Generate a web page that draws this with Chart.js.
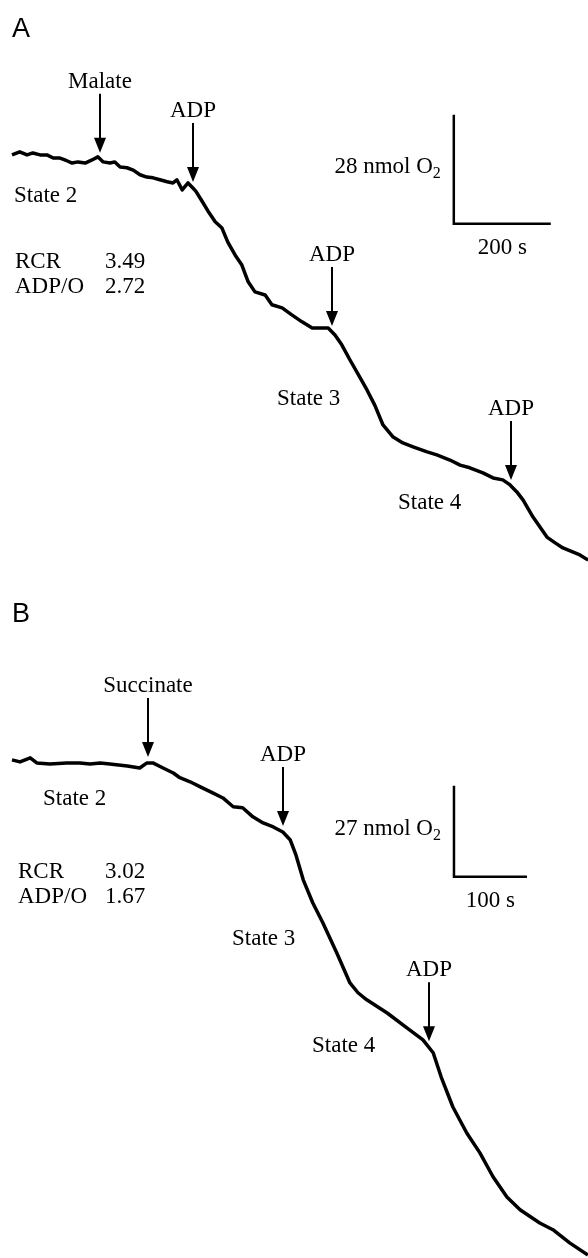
<!DOCTYPE html>
<html>
<head>
<meta charset="utf-8">
<script src="https://cdn.jsdelivr.net/npm/chart.js@4.4.1/dist/chart.umd.min.js"></script>
<style>
  html, body { margin: 0; padding: 0; background: #fff; }
  .panel { position: absolute; left: 0; width: 588px; }
  #panelA { top: 0; height: 590px; }
  #panelB { top: 590px; height: 668px; }
</style>
</head>
<body>
<div class="panel" id="panelA"><canvas id="chartA"></canvas></div>
<div class="panel" id="panelB"><canvas id="chartB"></canvas></div>
<script>
// Panel A - malate: time (s) and O2 left in the chamber (nmol)
const timeA = [0, 16, 31, 43, 58, 72, 85, 99, 113, 124, 136, 151, 165, 177, 188, 202, 212, 223, 237, 250,
  264, 278, 291, 305, 320, 332, 340, 351, 363, 373, 379, 392, 404, 419, 433, 445, 460, 474, 487, 501,
  522, 536, 557, 577, 598, 619, 639, 652, 666, 680, 697, 718, 732, 748, 765, 786, 806, 827, 856, 876,
  903, 924, 944, 971, 992, 1012, 1027, 1041, 1054, 1074, 1103, 1120, 1136, 1171, 1188]
const oxygenA = [230.0, 230.8, 230.0, 230.5, 230.0, 230.0, 229.2, 229.2, 228.5, 227.9, 228.2, 227.9, 228.7, 229.5, 228.2, 227.9, 228.2, 226.9, 226.7, 226.1,
  224.9, 224.3, 224.1, 223.6, 223.1, 222.8, 223.6, 221.0, 222.8, 221.5, 220.7, 218.1, 215.6, 212.8, 211.2, 207.6, 204.3, 201.7, 197.4, 194.8,
  194.0, 191.5, 190.7, 188.9, 187.1, 185.5, 185.5, 185.5, 183.7, 181.2, 177.3, 172.7, 169.6, 165.7, 160.6, 157.5, 156.0, 155.0, 153.7, 152.9,
  151.6, 150.3, 149.6, 148.3, 147.0, 146.5, 145.2, 143.4, 141.3, 137.0, 131.8, 130.3, 129.0, 127.2, 125.9]
const additionsA = ["Malate", "ADP", "ADP", "ADP"]
const additionTimesA = [181, 373, 660, 1029]
const statsA = [["RCR", "3.49"], ["ADP/O", "2.72"]]
const barSecondsA = 200
const barNmolA = 28

// Panel B - succinate
const timeB = [0, 11, 25, 34, 52, 75, 93, 107, 121, 134, 158, 175, 185, 193, 207, 221, 230, 244, 258, 275,
  289, 303, 316, 330, 344, 358, 371, 381, 389, 399, 412, 426, 445, 463, 474, 486, 514, 541, 563, 577,
  588, 604, 623, 641, 659, 678, 696, 723, 741, 764, 789]
const oxygenB = [230.0, 229.4, 230.6, 229.1, 228.8, 229.1, 229.1, 228.8, 229.1, 228.8, 228.2, 227.6, 229.1, 229.1, 227.6, 226.1, 224.7, 223.5, 222.0, 220.2,
  218.7, 216.1, 215.8, 213.1, 211.3, 210.1, 208.6, 206.3, 201.8, 194.4, 187.6, 181.6, 172.7, 163.8, 160.9, 158.8, 154.9, 150.5, 146.9, 143.1,
  135.9, 127.0, 119.3, 113.4, 106.3, 100.3, 96.5, 92.6, 90.6, 86.7, 83.1]
const additionsB = ["Succinate", "ADP", "ADP"]
const additionTimesB = [186, 371, 571]
const statsB = [["RCR", "3.02"], ["ADP/O", "1.67"]]
const barSecondsB = 100
const barNmolB = 27

const SERIF = "23px 'Liberation Serif', 'Times New Roman', serif"
const SUB = "16px 'Liberation Serif', 'Times New Roman', serif"
const SANS = "27px 'Liberation Sans', Arial, sans-serif"

const traceAt = (times, values, t) => {
  for (let i = 1; i < times.length; i++) {
    if (times[i] >= t) {
      const f = (t - times[i - 1]) / (times[i] - times[i - 1])
      return values[i - 1] + f * (values[i] - values[i - 1])
    }
  }
  return values[values.length - 1]
}

const drawArrow = (ctx, x, tipY, label) => {
  const top = tipY - 59
  ctx.lineWidth = 2
  ctx.beginPath()
  ctx.moveTo(x, top)
  ctx.lineTo(x, tipY - 12)
  ctx.stroke()
  ctx.beginPath()
  ctx.moveTo(x - 6, tipY - 15)
  ctx.lineTo(x + 6, tipY - 15)
  ctx.lineTo(x, tipY)
  ctx.closePath()
  ctx.fill()
  ctx.font = SERIF
  ctx.textAlign = "center"
  ctx.fillText(label, x, top - 6)
}

// everything drawn on top of the trace: arrows, labels, scale bar
const panelDecor = (cfg) => ({
  id: "decor" + cfg.letter,
  afterDatasetsDraw(chart) {
    const {ctx, scales: {x, y}} = chart
    ctx.save()
    ctx.fillStyle = "#000"
    ctx.strokeStyle = "#000"
    ctx.textBaseline = "alphabetic"

    ctx.font = SANS
    ctx.textAlign = "left"
    ctx.fillText(cfg.letter, 12, cfg.letterY)

    cfg.additions.forEach((label, i) => {
      const t = cfg.additionTimes[i]
      const px = Math.round(x.getPixelForValue(t))
      const py = y.getPixelForValue(traceAt(cfg.times, cfg.values, t)) - 6
      drawArrow(ctx, px, py, label)
    })

    ctx.font = SERIF
    ctx.textAlign = "left"
    cfg.labels.forEach(([text, lx, ly]) => ctx.fillText(text, lx, ly))
    cfg.stats.forEach(([name, value], i) => {
      ctx.fillText(name, cfg.statsX, cfg.statsY + i * 25)
      ctx.fillText(value, 105, cfg.statsY + i * 25)
    })

    // scale bar
    const bx = x.getPixelForValue(cfg.barOrigin[0])
    const bx2 = x.getPixelForValue(cfg.barOrigin[0] + cfg.barSeconds)
    const by = y.getPixelForValue(cfg.barOrigin[1])
    const by2 = y.getPixelForValue(cfg.barOrigin[1] + cfg.barNmol)
    ctx.lineWidth = 2.5
    ctx.beginPath()
    ctx.moveTo(bx, by2)
    ctx.lineTo(bx, by)
    ctx.lineTo(bx2, by)
    ctx.stroke()

    const right = bx - 13
    const mid = (by + by2) / 2 + 4
    ctx.font = SUB
    const subW = ctx.measureText("2").width
    ctx.textAlign = "left"
    ctx.fillText("2", right - subW, mid + 5)
    ctx.font = SERIF
    ctx.textAlign = "right"
    ctx.fillText(cfg.barNmol + " nmol O", right - subW, mid)
    ctx.textAlign = "center"
    ctx.fillText(cfg.barSeconds + " s", (bx + bx2) / 2, by + 30)

    ctx.restore()
  },
})

const buildChart = (canvasId, cfg) => new Chart(document.getElementById(canvasId), {
  type: "line",
  data: {
    datasets: [{
      data: cfg.times.map((t, i) => ({x: t, y: cfg.values[i]})),
      borderColor: "#000",
      borderWidth: 3.5,
      pointRadius: 0,
      tension: 0,
      borderJoinStyle: "round",
      clip: false,
    }],
  },
  options: {
    responsive: true,
    maintainAspectRatio: false,
    animation: false,
    events: [],
    layout: {padding: 0},
    plugins: {legend: {display: false}, tooltip: {enabled: false}},
    scales: {
      x: {type: "linear", display: false, min: cfg.xRange[0], max: cfg.xRange[1]},
      y: {type: "linear", display: false, min: cfg.yRange[0], max: cfg.yRange[1]},
    },
  },
  plugins: [panelDecor(cfg)],
})

buildChart("chartA", {
  letter: "A", letterY: 37,
  times: timeA, values: oxygenA,
  additions: additionsA, additionTimes: additionTimesA,
  stats: statsA, statsX: 15, statsY: 268,
  labels: [["State 2", 14, 202], ["State 3", 277, 405], ["State 4", 398, 509]],
  barOrigin: [911, 212.3], barSeconds: barSecondsA, barNmol: barNmolA,
  xRange: [-24.7, 1187.7], yRange: [118.2, 269.8],
})

buildChart("chartB", {
  letter: "B", letterY: 32,
  times: timeB, values: oxygenB,
  additions: additionsB, additionTimes: additionTimesB,
  stats: statsB, statsX: 18, statsY: 288,
  labels: [["State 2", 43, 215], ["State 3", 232, 355], ["State 4", 312, 462]],
  barOrigin: [605.5, 195.3], barSeconds: barSecondsB, barNmol: barNmolB,
  xRange: [-16.4, 789.1], yRange: [82.2, 280.4],
})
</script>
</body>
</html>
